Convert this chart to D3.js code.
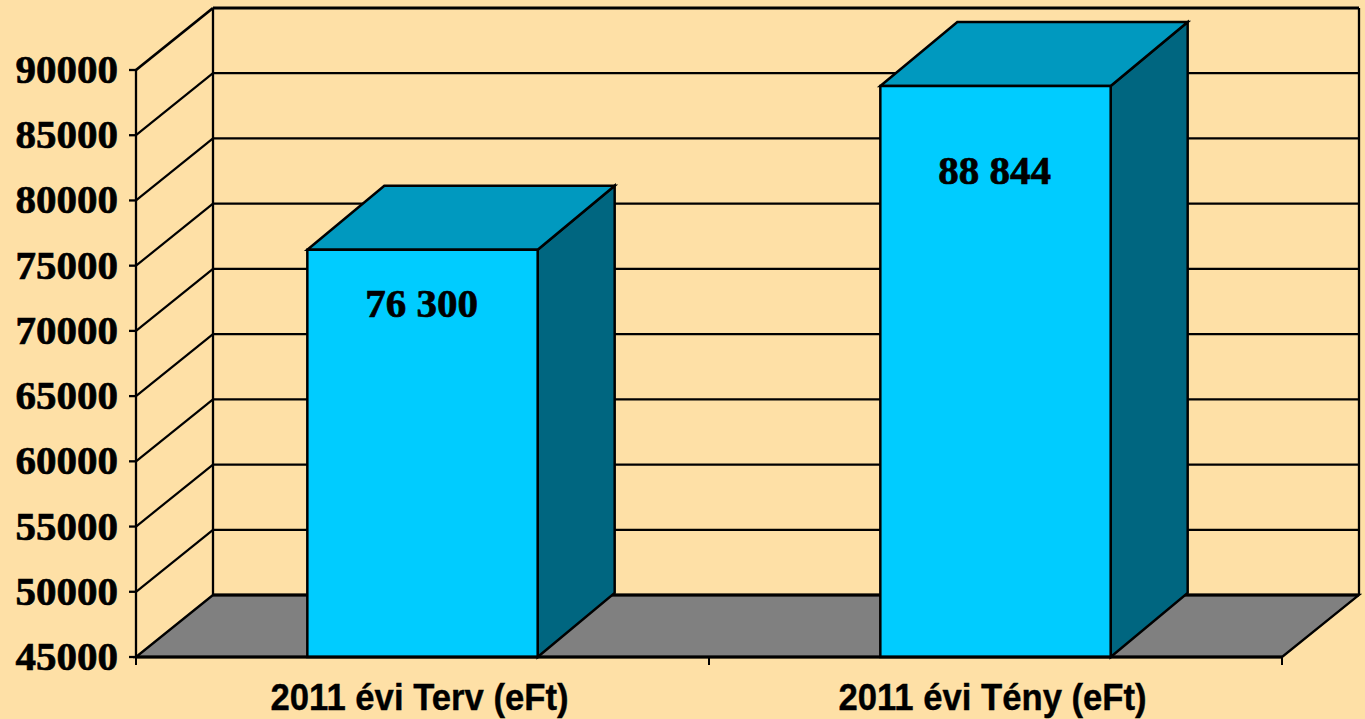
<!DOCTYPE html>
<html>
<head>
<meta charset="utf-8">
<script src="https://cdnjs.cloudflare.com/ajax/libs/d3/7.8.5/d3.min.js"></script>
<style>
html,body{margin:0;padding:0;background:#FEE0A6;overflow:hidden}
svg{display:block}
</style>
</head>
<body>
<svg id="c" width="1365" height="719"></svg>
<script>
const categories = ["2011 évi Terv (eFt)", "2011 évi Tény (eFt)"];
const values = [76300, 88844];
const valueLabels = ["76 300", "88 844"];
const yTicks = [45000, 50000, 55000, 60000, 65000, 70000, 75000, 80000, 85000, 90000];

const svg = d3.select("#c");
const y = d3.scaleLinear().domain([45000, 90000]).range([657, 70]);
const x = d3.scaleBand().domain(categories).range([136, 1282]).paddingInner(0.598).paddingOuter(0.299);
const dx = 77, dy = -62;          // depth of the chart box
const bdx = 77, bdy = -64;        // depth of the bars
const serif = "'Liberation Serif','Times New Roman',serif";
const sans = "'Liberation Sans',Arial,sans-serif";
const line = d3.line();
const poly = (pts, fill, sw) => svg.append("path")
  .attr("d", line(pts) + "Z").attr("fill", fill).attr("stroke", "#000")
  .attr("stroke-width", sw).attr("stroke-linejoin", "miter");
const seg = (x1, y1, x2, y2, sw) => svg.append("line")
  .attr("x1", x1).attr("y1", y1).attr("x2", x2).attr("y2", y2)
  .attr("stroke", "#000").attr("stroke-width", sw);

const [x0, x1] = x.range();

// Floor
poly([[x0, y(45000)], [x0 + dx, y(45000) + dy], [x1 + dx, y(45000) + dy], [x1, y(45000)]], "#808080", 2.3);

// Grid on side and back walls
yTicks.forEach(t => {
  const w = (t === 90000 || t === 45000) ? 2.8 : 2.2;
  if (t !== 45000) seg(x0, y(t), x0 + dx, y(t) + dy, w);
  seg(x0 + dx, y(t) + dy, x1 + dx, y(t) + dy, w);
});
seg(x0 + dx, y(90000) + dy, x0 + dx, y(45000) + dy, 2.3);
seg(x1 + dx, y(90000) + dy, x1 + dx, y(45000) + dy, 2.3);
seg(x0, y(90000), x0, y(45000), 2.3);

// Bars
values.forEach((v, i) => {
  const l = x(categories[i]), r = l + x.bandwidth(), t = y(v) + 1, b = y(45000);
  poly([[r, b], [r + bdx, b + bdy], [r + bdx, t + bdy], [r, t]], "#006680", 2.5);
  poly([[l, t], [l + bdx, t + bdy], [r + bdx, t + bdy], [r, t]], "#0099BF", 2.5);
  poly([[l, t], [r, t], [r, b], [l, b]], "#00CCFF", 2.5);
});

// Floor front edge
seg(x0, y(45000), x1, y(45000), 3);

// Y axis ticks and labels
yTicks.forEach(t => {
  seg(x0 - 7, y(t), x0, y(t), 2.3);
  svg.append("text").attr("x", 118).attr("y", y(t) + 13)
    .attr("text-anchor", "end").attr("font-family", serif)
    .attr("font-weight", "bold").attr("font-size", 41).attr("fill", "#000")
    .attr("stroke", "#000").attr("stroke-width", 0.7).text(t);
});

// X axis ticks and labels
[x0, (x0 + x1) / 2, x1].forEach(p => seg(p, y(45000), p, y(45000) + 8, 2));
categories.forEach(c => {
  const cx = x(c) + x.bandwidth() / 2 - 3;
  svg.append("text").attr("transform", `translate(${cx},710) scale(0.937,1)`)
    .attr("text-anchor", "middle").attr("font-family", sans)
    .attr("font-weight", "bold").attr("font-size", 37).attr("fill", "#000")
    .attr("stroke", "#000").attr("stroke-width", 0.4).text(c);
});

// Value labels
const labelDrop = [67, 98];
values.forEach((v, i) => {
  svg.append("text").attr("x", x(categories[i]) + x.bandwidth() / 2 - 1)
    .attr("y", y(v) + 1 + labelDrop[i]).attr("text-anchor", "middle")
    .attr("font-family", serif).attr("font-weight", "bold")
    .attr("font-size", 41).attr("fill", "#000")
    .attr("stroke", "#000").attr("stroke-width", 0.7).text(valueLabels[i]);
});
</script>
</body>
</html>
